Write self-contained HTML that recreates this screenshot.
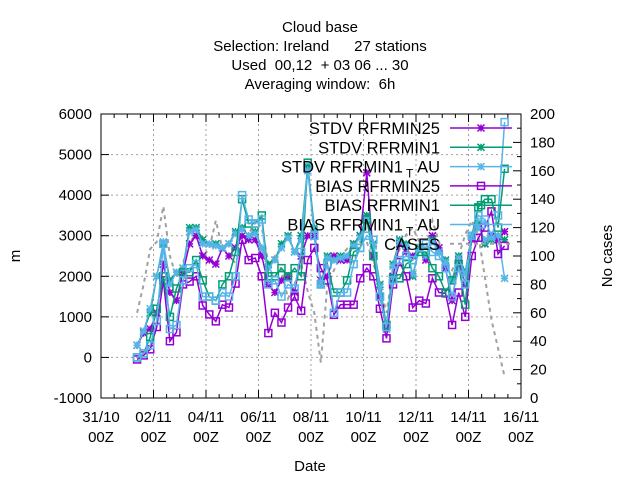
<!DOCTYPE html>
<html><head><meta charset="utf-8"><style>
body{margin:0;background:#fff;}
svg{display:block;font-family:"Liberation Sans","DejaVu Sans",sans-serif;}
svg text{white-space:pre;}
</style></head><body>
<svg id="chart" width="640" height="480" viewBox="0 0 640 480" xmlns="http://www.w3.org/2000/svg" xml:space="preserve">
<g font-size="15" text-anchor="middle" fill="#000">
<text x="320" y="32">Cloud base</text>
<text x="320" y="51">Selection: Ireland      27 stations</text>
<text x="320" y="70">Used  00,12  + 03 06 ... 30</text>
<text x="320" y="89">Averaging window:  6h</text>
</g>
<g id="grid"></g>
<g id="axes"></g>
<g id="series"></g>
<g id="legend"></g>
<text x="20" y="256" font-size="15" text-anchor="middle" transform="rotate(-90 20 256)">m</text>
<text x="612" y="256" font-size="15" text-anchor="middle" transform="rotate(-90 612 256)">No cases</text>
<text x="310" y="471" font-size="15" text-anchor="middle">Date</text>
</svg>
<script>
const xTickLabels = ["31/10","02/11","04/11","06/11","08/11","10/11","12/11","14/11","16/11"];
const yTicks = [-1000,0,1000,2000,3000,4000,5000,6000];
const y2Ticks = [0,20,40,60,80,100,120,140,160,180,200];
const tStart = 1.375, tStep = 0.25;
const stdv25 = [300,600,700,1100,2300,1600,1400,2100,2800,3000,2500,2400,2300,2700,2500,2700,3000,2900,2900,2500,1800,1600,1900,2000,1600,2500,3000,3000,1900,2000,2500,2400,2400,2800,3000,4550,2500,1500,700,2000,2800,2600,2500,2700,2400,3000,2700,2200,1400,2400,1800,2900,3300,2800,3000,2900,3100];
const stdv1 = [300,650,1100,2000,2800,1900,2100,2200,3200,3200,2900,2800,2800,2700,2800,3100,3200,3000,3100,2700,2300,2400,2800,3000,2600,3000,4700,3200,1800,2500,2400,2500,2500,2800,3000,3500,2800,1800,750,2300,2900,2800,2000,2700,2500,2900,2600,2400,1900,2500,2100,3000,3300,2800,2900,3000,2900];
const stdv1au = [300,650,1200,2000,2850,1800,2100,2200,3100,3150,2800,2800,2750,2700,2800,3050,3150,3000,3050,2700,2200,2400,2700,2950,2600,2900,4600,3150,1800,2450,2400,2450,2500,2750,2950,3400,2750,1750,700,2250,2850,2750,2050,2650,2500,2850,2600,2350,1900,2450,2050,3000,3200,2900,2950,3000,1950];
const bias25 = [-50,50,200,750,1900,400,620,1800,1870,2000,1280,1060,890,1300,1230,1820,2900,2400,2450,2000,600,1100,860,1230,1500,1150,2400,2700,2200,1900,1050,1300,1300,1300,1950,2200,2000,1200,470,1800,2350,2000,1230,1400,1330,1950,1600,1580,800,1600,1000,2500,2950,3200,3600,2550,2750];
const bias1 = [0,100,500,1200,2000,1000,1700,2100,2100,2400,1900,1500,1400,1800,2000,2600,3900,3300,3300,3500,2000,2000,2200,2000,2200,2000,4800,3000,1800,2300,1600,1600,1900,2600,2700,3400,2500,1500,800,1950,1950,2300,2400,2600,2600,2200,2000,1600,1900,2300,1300,3000,3700,3900,3900,3200,4650];
const bias1au = [0,100,300,900,2800,700,800,1900,2200,2300,1500,1500,1400,1600,1500,2000,4000,3400,3300,3400,1800,1900,1500,1800,1700,2600,4700,3000,1800,2300,1100,1600,1600,2300,2700,3000,2900,1500,750,1900,2400,2500,2400,2700,2800,2600,2500,2200,1500,2200,1800,3000,3500,3400,3000,3500,5800];
const cases = [60,80,105,110,135,100,85,95,110,115,100,105,125,105,100,95,110,115,125,120,95,100,90,70,80,95,75,60,25,80,90,100,105,95,110,110,95,80,60,90,105,115,120,110,105,125,110,95,90,100,115,125,115,85,55,35,15];

const NS="http://www.w3.org/2000/svg";
const L=101,R=521,T=114,B=398;
const xs = t => L + (R-L)*t/16;
const ys = v => B - (B-T)*(v+1000)/7000;
const y2s = v => B - (B-T)*v/200;
function mk(tag, attrs, parent){const e=document.createElementNS(NS,tag);for(const k in attrs)e.setAttribute(k,attrs[k]);parent.appendChild(e);return e;}
const grid=document.getElementById('grid'),axes=document.getElementById('axes'),series=document.getElementById('series'),legend=document.getElementById('legend');

yTicks.forEach(v=>{
  const y=ys(v);
  if(v>-1000&&v<6000){const g=mk('line',{x1:L,x2:R,y1:y,y2:y,stroke:'#a0a0a0','stroke-dasharray':'2,3','stroke-width':1},grid);
  
  }
  mk('line',{x1:L,x2:L+8,y1:y,y2:y,stroke:'#000'},axes);
  const t=mk('text',{x:L-9,y:y+5,'font-size':15,'text-anchor':'end'},axes);t.textContent=v;
  
  
});
y2Ticks.forEach(v=>{
  const y=y2s(v);
  mk('line',{x1:R-8,x2:R,y1:y,y2:y,stroke:'#000'},axes);
  if(v<200) mk('line',{x1:R-4,x2:R,y1:y2s(v+10),y2:y2s(v+10),stroke:'#000'},axes);
  const t=mk('text',{x:R+9,y:y+5,'font-size':15},axes);t.textContent=v;
  
  
});
xTickLabels.forEach((lab,i)=>{
  const x=xs(i*2);
  if(i>0&&i<8){const g=mk('line',{x1:x,x2:x,y1:T,y2:B,stroke:'#a0a0a0','stroke-dasharray':'2,3'},grid);
  
  }
  mk('line',{x1:x,x2:x,y1:B,y2:B-8,stroke:'#000'},axes);
  mk('line',{x1:x,x2:x,y1:T,y2:T+8,stroke:'#000'},axes);
  const t=mk('text',{x:x,y:422,'font-size':15,'text-anchor':'middle'},axes);t.textContent=lab;
  
  
  const t2=mk('text',{x:x,y:442,'font-size':15,'text-anchor':'middle'},axes);t2.textContent='00Z';
  
  
});
for(let d=0.5;d<16;d+=0.5){ if(d%2===0)continue; const x=xs(d);
  mk('line',{x1:x,x2:x,y1:B,y2:B-4,stroke:'#000'},axes);
  mk('line',{x1:x,x2:x,y1:T,y2:T+4,stroke:'#000'},axes);}
const frame=mk('rect',{x:L,y:T,width:R-L,height:B-T,fill:'none',stroke:'#000','stroke-width':1},axes);



function star(g,x,y,c){const s=3.5;
  mk('path',{d:`M${x-s},${y}H${x+s}M${x},${y-s}V${y+s}M${x-s},${y-s}L${x+s},${y+s}M${x-s},${y+s}L${x+s},${y-s}`,stroke:c,'stroke-width':1.5},g);}
function sq(g,x,y,c){mk('rect',{x:x-3.5,y:y-3.5,width:7,height:7,fill:'none',stroke:c,'stroke-width':1.5},g);}
function drawSeries(vals,color,marker,name,yf,dash){
  const g=mk('g',{},series);
  
  
  const pts=vals.map((v,i)=>[xs(tStart+i*tStep),yf(v)]);
  mk('polyline',{points:pts.map(p=>p.join(',')).join(' '),fill:'none',stroke:color,'stroke-width':dash?2:1.5,'stroke-dasharray':dash||'none'},g);
  if(marker)pts.forEach(p=>marker(g,p[0],p[1],color));
}
drawSeries(cases,'#a0a0a0',null,'series-cases',y2s,'4,4');
drawSeries(stdv25,'#9400d3',star,'series-stdv-rfrmin25',ys);
drawSeries(stdv1,'#009e73',star,'series-stdv-rfrmin1',ys);
drawSeries(stdv1au,'#56b4e9',star,'series-stdv-rfrmin1-au',ys);
drawSeries(bias25,'#9400d3',sq,'series-bias-rfrmin25',ys);
drawSeries(bias1,'#009e73',sq,'series-bias-rfrmin1',ys);
drawSeries(bias1au,'#56b4e9',sq,'series-bias-rfrmin1-au',ys);

const legItems=[["STDV RFRMIN25","#9400d3",star],["STDV RFRMIN1","#009e73",star],["STDV RFRMIN1_AU","#56b4e9",star],["BIAS RFRMIN25","#9400d3",sq],["BIAS RFRMIN1","#009e73",sq],["BIAS RFRMIN1_AU","#56b4e9",sq],["CASES","#a0a0a0",null]];
legItems.forEach((it,i)=>{
  const y=128+i*19.3;
  const g=mk('g',{},legend);
  
  
  const t=mk('text',{x:440,y:y+6,'font-size':16.5,'text-anchor':'end'},g);
  if(it[0].indexOf('_AU')>=0){
    t.appendChild(document.createTextNode(it[0].replace('_AU','')));
    const s=mk('tspan',{'font-size':12,dy:5},t);s.textContent=' T';
    const s2=mk('tspan',{dy:-5},t);s2.textContent=' AU';
  } else t.textContent=it[0];
  if(it[2]){mk('line',{x1:450,x2:512,y1:y,y2:y,stroke:it[1],'stroke-width':1.5},g); it[2](g,481,y,it[1]);}
  else mk('line',{x1:450,x2:512,y1:y,y2:y,stroke:it[1],'stroke-width':2,'stroke-dasharray':'4,4'},g);
});
</script>
</body></html>
